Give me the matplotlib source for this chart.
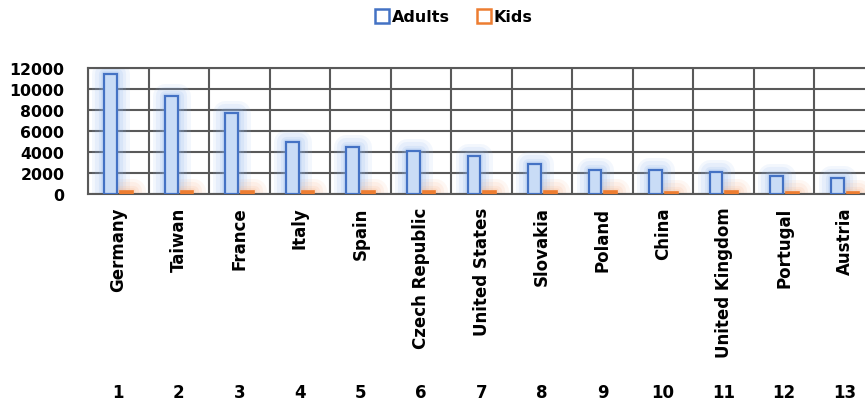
import matplotlib
matplotlib.use("Agg")
import matplotlib.pyplot as plt
import matplotlib.transforms as mtransforms
from matplotlib.lines import Line2D
import numpy as np

countries = ["Germany", "Taiwan", "France", "Italy", "Spain", "Czech Republic",
             "United States", "Slovakia", "Poland", "China", "United Kingdom",
             "Portugal", "Austria"]
ranks = [str(i) for i in range(1, 14)]
adults = [11400, 9350, 7750, 4950, 4500, 4100, 3650, 2900, 2250, 2250, 2050, 1700, 1550]
kids = [290, 270, 260, 270, 260, 250, 240, 240, 240, 230, 240, 230, 220]

blue = "#4472c4"
blue_fill = "#c9dcf6"
blue_glow = "#8fb6ee"
orange = "#ed7d31"
orange_glow = "#f7b98f"
grid_col = "#595959"

plt.rcParams["font.family"] = "DejaVu Sans"
plt.rcParams["font.weight"] = "bold"

fig = plt.figure(figsize=(8.65, 4.06), dpi=100)
ax = fig.add_axes([88 / 865, 1 - 195 / 406, 787 / 865, 126 / 406])

x = np.arange(1, len(countries) + 1)
w = 0.21
xa = x - 0.125
xk = x + 0.135

# soft glow behind the bars
for lw, al in [(18, 0.10), (13, 0.13), (8, 0.16), (4, 0.2)]:
    ax.bar(xa, adults, w, facecolor="none", edgecolor=blue_glow, linewidth=lw,
           alpha=al, joinstyle="round", zorder=2)
    ax.bar(xk, kids, w, facecolor="none", edgecolor=orange_glow, linewidth=lw,
           alpha=al, joinstyle="round", zorder=2)

ax.bar(xa, adults, w, facecolor=blue_fill, edgecolor=blue, linewidth=1.6, zorder=3)
ax.bar(xk, kids, w, facecolor=orange, edgecolor=orange, linewidth=1.2, zorder=3)

ax.set_xlim(0.5, len(countries) + 0.5)
ax.set_ylim(0, 12000)
ax.set_yticks(np.arange(0, 12001, 2000))
ax.set_xticks(x)
ax.set_xticklabels(countries, rotation=90, va="top", ha="center", fontsize=12,
                   fontweight="bold")
ax.set_xticks(np.arange(0.5, len(countries) + 1), minor=True)
ax.tick_params(axis="x", which="both", length=0, pad=9)
ax.tick_params(axis="y", length=0, pad=17, labelsize=11.3)
for lab in ax.get_yticklabels():
    lab.set_fontweight("bold")

ax.set_axisbelow(True)
ax.grid(axis="y", which="major", color=grid_col, linewidth=1.5)
ax.grid(axis="x", which="minor", color=grid_col, linewidth=1.5)
for s in ax.spines.values():
    s.set_color(grid_col)
    s.set_linewidth(1.5)

trans = mtransforms.blended_transform_factory(ax.transData, ax.transAxes)
for xi, r in zip(x, ranks):
    ax.text(xi, -1.571, r, transform=trans, ha="center", va="center",
            fontsize=12, fontweight="bold")

handles = [Line2D([], [], linestyle="none", marker="s", markersize=10,
                  markerfacecolor="white", markeredgecolor=blue, markeredgewidth=1.8),
           Line2D([], [], linestyle="none", marker="s", markersize=10,
                  markerfacecolor="white", markeredgecolor=orange, markeredgewidth=1.8)]
fig.legend(handles, ["Adults", "Kids"], loc="center", bbox_to_anchor=(0.524, 1 - 18 / 406),
           ncol=2, frameon=False, prop={"size": 11.5, "weight": "bold"},
           handletextpad=0.15, columnspacing=1.6, handlelength=1.0)

fig.savefig("out.png", dpi=100)
